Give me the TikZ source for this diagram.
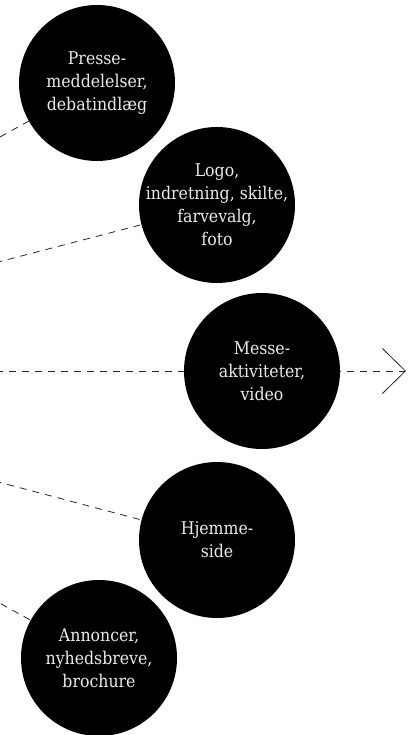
\documentclass[tikz,border=0pt]{standalone}
\usepackage{fontspec}
\setmainfont{DejaVu Serif Condensed}
\usetikzlibrary{arrows.meta,backgrounds}
\begin{document}
\begin{tikzpicture}[x=1pt,y=-1pt,
  bubble/.style={circle,fill=black,draw=none,minimum size=156pt,inner sep=0pt},
  btext/.style={text=black!8,font=\fontsize{17.5}{23}\selectfont,align=center,inner sep=0pt},
  link/.style={draw=black!85,line width=0.8pt,dash pattern=on 7pt off 6pt}]
\useasboundingbox (0,0) rectangle (415,735);
\clip (0,0) rectangle (415,735);
\coordinate (O) at (-420,371);
\coordinate (tip) at (406,371);
\node[bubble,label={[btext]center:{Presse-\\meddelelser,\\debatindlæg}}] (presse) at (97,83) {};
\node[bubble,label={[btext]center:{Logo,\\indretning, skilte,\\farvevalg,\\foto}}] (logo) at (217,205) {};
\node[bubble,label={[btext]center:{Messe-\\aktiviteter,\\video}}] (messe) at (262,371) {};
\node[bubble,label={[btext]center:{Hjemme-\\side}}] (hjemme) at (217,540) {};
\node[bubble,label={[btext]center:{Annoncer,\\nyhedsbreve,\\brochure}}] (annoncer) at (99,658) {};
\begin{scope}[on background layer]
\draw[link] (O) -- (presse);
\draw[link] (O) -- (logo);
\draw[link,-{Straight Barb[length=23pt,width=45pt,line width=0.8pt]}] (O) -- (tip);
\draw[link] (O) -- (hjemme);
\draw[link] (O) -- (annoncer);
\end{scope}
\end{tikzpicture}
\end{document}
